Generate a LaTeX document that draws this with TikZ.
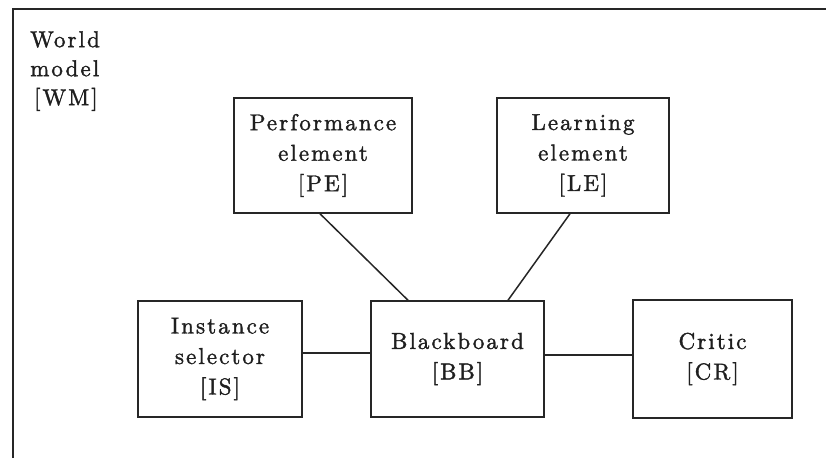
\documentclass[tikz,border=0pt]{standalone}
\usepackage{fontspec}
\setmainfont{lmroman10-regular}[Extension=.otf, LetterSpace=9, FakeBold=1.6]
\begin{document}
\begin{tikzpicture}[x=1pt,y=-1pt,
  ln/.style={line width=1.5pt, black!85},
  blk/.style={draw, ln, rectangle, align=center, inner sep=0pt,
    font=\fontsize{23}{30.5}\selectfont, text=black!88},
  lbl/.style={align=left, inner sep=0pt, font=\fontsize{23}{29}\selectfont, text=black!88}]
\useasboundingbox (0,0) rectangle (826,458);
% world model frame (cut off at right and bottom)
\coordinate (fbl) at (13,458);
\coordinate (ftl) at (13,9);
\coordinate (ftr) at (826,9);
\draw[ln] (fbl) -- (ftl) -- (ftr);
\node[lbl, anchor=north west] (WM) at (30,31) {World\\model\\\,[WM]};
% blocks
\node[blk, minimum width=178pt, minimum height=115pt] (PE) at (323,155.5) {Performance\\element\\{}[PE]};
\node[blk, minimum width=172pt, minimum height=115pt] (LE) at (583,155.5) {Learning\\element\\{}[LE]};
\node[blk, minimum width=164pt, minimum height=116pt] (IS) at (220,359) {Instance\\selector\\{}[IS]};
\node[blk, minimum width=173pt, minimum height=116pt] (BB) at (457.5,359) {Blackboard\\{}[BB]};
\node[blk, minimum width=159pt, minimum height=118pt] (CR) at (712.5,359) {Critic\\{}[CR]};
% connectors
\draw[ln] ([xshift=-3pt]PE.south) -- ([xshift=-49.5pt]BB.north);
\draw[ln] ([xshift=-13pt]LE.south) -- ([xshift=50.5pt]BB.north);
\draw[ln] ([yshift=6pt]IS.east) -- ([yshift=6pt]BB.west);
\draw[ln] ([yshift=4pt]BB.east) -- ([yshift=4pt]CR.west);
\end{tikzpicture}
\end{document}
